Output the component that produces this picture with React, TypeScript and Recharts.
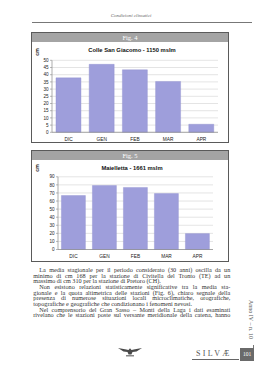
import { Bar, BarChart, CartesianGrid, XAxis, YAxis } from 'recharts';
import type { JSX } from 'react';

const months = ['DIC', 'GEN', 'FEB', 'MAR', 'APR'];
const colleSanGiacomo = [37.8, 47.2, 43.4, 35.3, 5.6];
const maielletta = [66.8, 79.2, 76.8, 69.2, 19.7];
const ticksFig4 = [0, 5, 10, 15, 20, 25, 30, 35, 40, 45, 50];
const ticksFig5 = [0, 10, 20, 30, 40, 50, 60, 70, 80, 90];

const bodyLines: { text: string; indent?: boolean; last?: boolean }[] = [
  { text: 'La media stagionale per il periodo considerato (30 anni) oscilla da un', indent: true },
  { text: 'minimo di cm 168 per la stazione di Civitella del Tronto (TE) ad un' },
  { text: 'massimo di cm 310 per la stazione di Pretoro (CH).', last: true },
  { text: 'Non esistono relazioni statisticamente significative tra la media sta-', indent: true },
  { text: 'gionale e la quota altimetrica delle stazioni (Fig. 6), chiaro segnale della' },
  { text: 'presenza di numerose situazioni locali microclimatiche, orografiche,' },
  { text: 'topografiche e geografiche che condizionano i fenomeni nevosi.', last: true },
  { text: 'Nel comprensorio del Gran Sasso – Monti della Laga i dati esaminati', indent: true },
  { text: 'rivelano che le stazioni poste sul versante meridionale della catena, hanno' },
];

const SANS = '"Liberation Sans", Arial, sans-serif';
const SERIF = '"Liberation Serif", "Times New Roman", serif';
const BAR = '#9e9edb';

interface FigProps {
  label: string;
  title: string;
  values: number[];
  ticks: number[];
  boxTop: number;
  boxBottom: number;
  chartTop: number;
  chartHeight: number;
  marginTop: number;
  marginRight: number;
  yWidth: number;
  xHeight: number;
  gap: string;
  titleY: number;
  cmY: number;
}

function Figure(p: FigProps): JSX.Element {
  const rows = months.map((m, i) => ({ month: m, value: p.values[i] }));
  const max = p.ticks[p.ticks.length - 1];
  return (
    <>
      <div style={{
        position: 'absolute', left: 31, top: p.boxTop, width: 198, height: p.boxBottom - p.boxTop,
        border: '1px solid #5a5a5a', boxSizing: 'border-box', background: '#fff',
      }}>
        <div style={{
          height: 9, background: '#a4a4a4', color: '#fff', fontFamily: SERIF, fontSize: 6.5,
          lineHeight: '9px', textAlign: 'center',
        }}>{p.label}</div>
      </div>
      <div style={{
        position: 'absolute', left: 0, width: 264, top: p.titleY - 4, textAlign: 'center',
        fontFamily: SANS, fontWeight: 700, fontSize: 5.8, lineHeight: '8px', color: '#111',
      }}>{p.title}</div>
      <div style={{
        position: 'absolute', left: 33, top: p.cmY - 3, width: 8, height: 6, lineHeight: '6px',
        fontFamily: SANS, fontWeight: 700, fontSize: 5, color: '#222', textAlign: 'center',
        transform: 'rotate(-90deg)',
      }}>cm</div>
      <div style={{ position: 'absolute', left: 31.5, top: p.chartTop }}>
        <BarChart
          width={198}
          height={p.chartHeight}
          data={rows}
          margin={{ top: p.marginTop, right: p.marginRight, bottom: 0, left: 0 }}
          barCategoryGap={p.gap}
        >
          <CartesianGrid vertical={false} stroke="#d2d2d2" strokeWidth={0.6} />
          <XAxis
            dataKey="month"
            height={p.xHeight}
            tickLine={false}
            tickSize={0}
            tickMargin={5.2}
            axisLine={{ stroke: '#8a8a8a', strokeWidth: 0.7 }}
            tick={{ fontSize: 4.8, fill: '#222', fontFamily: SANS }}
            interval={0}
          />
          <YAxis
            width={p.yWidth}
            domain={[0, max]}
            ticks={p.ticks}
            interval={0}
            tickSize={2}
            tickMargin={1.5}
            tickLine={{ stroke: '#8a8a8a', strokeWidth: 0.6 }}
            axisLine={{ stroke: '#8a8a8a', strokeWidth: 0.7 }}
            tick={{ fontSize: 4.6, fill: '#222', fontFamily: SANS }}
          />
          <Bar dataKey="value" fill={BAR} stroke="#8f8fcf" strokeWidth={0.4} isAnimationActive={false} />
        </BarChart>
      </div>
    </>
  );
}

function Eagle(): JSX.Element {
  return (
    <svg width={24} height={12} viewBox="0 0 24 12" style={{ position: 'absolute', left: 118, top: 346 }}>
      <path d="M0 2 L7 3.2 L10.5 4 L12 2.2 L13.5 4 L17 3.2 L24 2 L18.5 5.5 L14.5 6 L13.4 8.5 L10.6 8.5 L9.5 6 L5.5 5.5 Z" fill="#4a4a4a" />
      <rect x={8} y={9.2} width={8} height={1.2} fill="#6a6a6a" />
    </svg>
  );
}

export default function App(): JSX.Element {
  return (
    <div style={{ position: 'absolute', left: 0, top: 0, width: 269, height: 380, background: '#fff', overflow: 'hidden' }}>
      <div style={{
        position: 'absolute', left: 0, width: 262, top: 13, textAlign: 'center', fontFamily: SERIF,
        fontStyle: 'italic', fontSize: 5, lineHeight: '6px', color: '#666',
      }}>Condizioni climatici</div>
      <div style={{ position: 'absolute', left: 32, top: 22, width: 220, height: 1.4, background: '#777' }} />

      <Figure
        label="Fig. 4"
        title="Colle San Giacomo - 1150 mslm"
        values={colleSanGiacomo}
        ticks={ticksFig4}
        boxTop={32}
        boxBottom={143}
        chartTop={41}
        chartHeight={101}
        marginTop={19.3}
        marginRight={12}
        yWidth={20}
        xHeight={9.7}
        gap="12%"
        titleY={49.7}
        cmY={51.5}
      />
      <Figure
        label="Fig. 5"
        title="Maielletta - 1661 mslm"
        values={maielletta}
        ticks={ticksFig5}
        boxTop={150}
        boxBottom={262}
        chartTop={158.5}
        chartHeight={103.5}
        marginTop={17.8}
        marginRight={17}
        yWidth={26}
        xHeight={13}
        gap="11%"
        titleY={168.3}
        cmY={168}
      />

      <div style={{ position: 'absolute', left: 33.3, top: 267.2, width: 197 }}>
        {bodyLines.map((l, i) => (
          <div key={i} style={{
            height: 5.65, lineHeight: '5.65px', fontFamily: SERIF, fontSize: 6.2, color: '#333',
            paddingLeft: l.indent ? 6 : 0, whiteSpace: 'nowrap', overflow: 'visible',
            textAlign: 'justify', textAlignLast: l.last ? 'left' : 'justify',
          }}>{l.text}</div>
        ))}
      </div>

      <div style={{
        position: 'absolute', left: 247, top: 300, width: 7, height: 46, writingMode: 'vertical-rl',
        fontFamily: SERIF, fontSize: 6, lineHeight: '7px', color: '#555', whiteSpace: 'nowrap',
      }}>Anno IV – n. 10</div>
      <div style={{ position: 'absolute', left: 252.5, top: 345, width: 0.7, height: 4, background: '#777' }} />

      <Eagle />

      <div style={{
        position: 'absolute', left: 196, top: 349, fontFamily: SERIF, fontSize: 8, lineHeight: '9px',
        letterSpacing: 2.3, color: '#555',
      }}>SILVÆ</div>
      <div style={{ position: 'absolute', left: 192, top: 358.5, width: 47, height: 0.8, background: '#666' }} />
      <div style={{
        position: 'absolute', left: 240, top: 348, width: 14, height: 13, background: '#6a6a6a',
        color: '#fff', fontFamily: SERIF, fontSize: 5.5, lineHeight: '13px', textAlign: 'center',
      }}>101</div>
    </div>
  );
}
